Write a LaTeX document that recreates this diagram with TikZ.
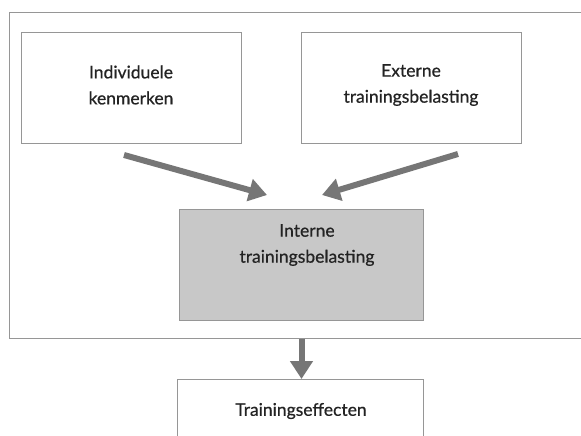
\documentclass[tikz,border=0pt]{standalone}
\usepackage{fontspec}
\setmainfont{Lato}
\newfontfamily\lblfont{Lato}[FakeBold=0.6]
\usetikzlibrary{arrows.meta}
\definecolor{boxline}{RGB}{150,150,150}
\definecolor{arrowgray}{RGB}{118,118,118}
\definecolor{fillgray}{RGB}{200,200,200}
\definecolor{txt}{RGB}{35,35,35}
\begin{document}
\begin{tikzpicture}[x=1pt,y=-1pt,
  box/.style={draw=boxline,line width=1pt,minimum width=#1,inner sep=0pt},
  lbl/.style={text=txt,align=center,font=\lblfont\fontsize{17.5}{26}\selectfont},
  fatarrow/.style={draw=arrowgray,line width=6pt,-{Triangle[length=18pt,width=22pt]}}]
\useasboundingbox (0,0) rectangle (581,436);
\clip (0,0) rectangle (581,436);
\fill[white] (0,0) rectangle (581,436);
\node[draw=boxline,line width=1pt,minimum width=600pt,minimum height=326pt,inner sep=0pt,anchor=north west] (outer) at (9,12) {};
\node[box=220pt,minimum height=111pt,anchor=north west] (ind) at (21,32) {};
\node[lbl] (indt) at (131,85) {Individuele\\kenmerken};
\node[box=220pt,minimum height=111pt,anchor=north west] (ext) at (301,32) {};
\node[lbl] (extt) at (411,85) {Externe\\trainingsbelasting};
\node[box=244pt,minimum height=111pt,anchor=north west,fill=fillgray] (int) at (179,209) {};
\node[lbl] (intt) at (307,245) {Interne\\trainingsbelasting};
\node[box=246pt,minimum height=80pt,anchor=north west] (eff) at (177,379) {};
\node[lbl] (efft) at (301,411) {Trainingseffecten};
\coordinate (a1s) at (124,155);
\coordinate (a1e) at (267,195);
\coordinate (a2s) at (458,154);
\coordinate (a2e) at (322,195);
\draw[fatarrow] (a1s) -- (a1e);
\draw[fatarrow] (a2s) -- (a2e);
\draw[fatarrow] (int.south |- outer.south) -- (int.south |- eff.north);
\end{tikzpicture}
\end{document}
